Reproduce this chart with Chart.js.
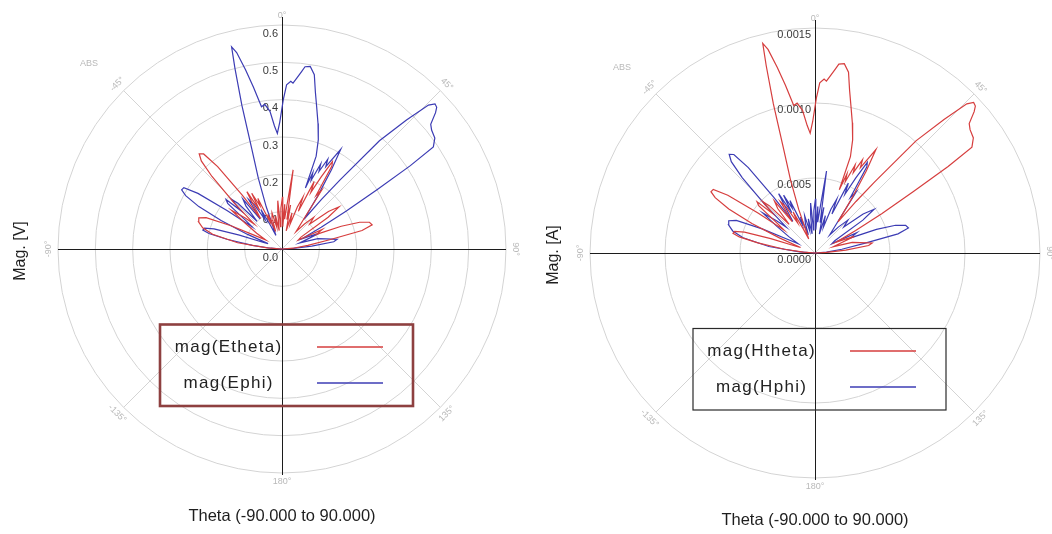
<!DOCTYPE html>
<html>
<head>
<meta charset="utf-8">
<script src="https://cdn.jsdelivr.net/npm/chart.js@4.4.1/dist/chart.umd.min.js"></script>
<style>
  html, body { margin: 0; padding: 0; background: #ffffff; }
  #wrap { position: relative; width: 1052px; height: 534px; overflow: hidden; background: #ffffff; }
  .pane { position: absolute; top: 0; width: 526px; height: 534px; }
</style>
</head>
<body>
<div id="wrap">
  <div class="pane" style="left:0"><canvas id="chartE" width="526" height="534"></canvas></div>
  <div class="pane" style="left:526px"><canvas id="chartH" width="526" height="534"></canvas></div>
</div>
<script>
// Angular grid (theta, degrees clockwise from the top) and its labels
const angleTicks = [0, 45, 90, 135, 180, -135, -90, -45];
const angleTickLabels = ['0°', '45°', '90°', '135°', '180°', '-135°', '-90°', '-45°'];

// Radial rings
const voltTicks = [0, 0.1, 0.2, 0.3, 0.4, 0.5, 0.6];
const ampTicks = [0, 0.0005, 0.001, 0.0015];

// Far-field E components, theta in degrees, magnitude in V
const ethetaDeg = [-90,-86,-82,-78,-75,-72,-69.5,-67.5,-65.5,-63.5,-61,-58,-55,-52.5,-50,-48,-46,-44,-42.5,-41,-39.5,-38,-36.5,-35,-33,-31.5,-30,-28.5,-27,-25.5,-24,-22,-20,-18,-15.5,-13.5,-11,-8.5,-6.5,-5,-3.5,-1.5,0.5,2,3.5,5,6.5,8,9.5,11,13,15.5,18,20,22,23.5,25.5,27,28.5,30,31,32.5,34,36,39,42,45,48,51,53.5,55.5,58,61,64,67,69,71,73,75,77,79,82,86,90];
const ethetaMag = [0,0.04,0.12,0.19,0.22,0.235,0.238,0.22,0.15,0.08,0.05,0.08,0.12,0.17,0.13,0.1,0.18,0.27,0.32,0.338,0.33,0.28,0.18,0.1,0.14,0.18,0.12,0.17,0.13,0.15,0.08,0.1,0.05,0.08,0.1,0.06,0.09,0.05,0.1,0.13,0.06,0.11,0.14,0.06,0.12,0.08,0.12,0.214,0.08,0.12,0.05,0.1,0.07,0.12,0.15,0.11,0.2,0.17,0.22,0.27,0.26,0.17,0.19,0.1,0.06,0.09,0.12,0.1,0.16,0.19,0.15,0.06,0.05,0.12,0.1,0.17,0.22,0.245,0.25,0.22,0.13,0.07,0.03,0];

const ephiDeg = [-90,-86,-83,-80,-78,-76.5,-75,-73.5,-72,-70.5,-69,-67,-65,-63,-61,-59.5,-58,-56.5,-55,-53.5,-52,-50,-48.5,-47,-45.5,-44,-42,-40,-38,-36,-34,-32,-30,-28,-26,-24,-22,-20.5,-18.5,-16.8,-15.6,-14.6,-14,-13,-11.5,-10,-8.2,-6.8,-5,-3.5,-2.3,-1,0.5,1.6,3,3.8,5,6.3,7.2,8.8,10.5,12,13.7,16,18.4,20.2,21,22,23,24.5,25.5,27,28,30.5,32,34,36.5,38.5,40,42,44,45.5,46.5,47.5,48.4,50,51.5,54,56,57,58,59.5,61,63,65,67,69,71,74,77,80,82,84.5,87,90];
const ephiMag = [0,0.03,0.08,0.15,0.2,0.218,0.215,0.19,0.12,0.05,0.04,0.1,0.18,0.25,0.295,0.312,0.31,0.27,0.18,0.1,0.12,0.19,0.2,0.15,0.19,0.17,0.1,0.15,0.17,0.1,0.16,0.14,0.09,0.12,0.07,0.04,0.06,0.12,0.2,0.28,0.4,0.5,0.558,0.54,0.49,0.44,0.385,0.39,0.37,0.33,0.31,0.34,0.4,0.44,0.45,0.445,0.46,0.478,0.492,0.495,0.475,0.43,0.392,0.35,0.308,0.265,0.175,0.22,0.2,0.25,0.23,0.27,0.25,0.31,0.25,0.17,0.1,0.17,0.24,0.39,0.48,0.55,0.565,0.562,0.55,0.52,0.512,0.506,0.489,0.41,0.3,0.2,0.12,0.06,0.08,0.11,0.07,0.05,0.1,0.12,0.15,0.14,0.08,0.03,0];

// Far-field H components, theta in degrees, magnitude in A
const hthetaDeg = [-90,-86,-83,-80,-78,-76.5,-75,-73.5,-72,-70.5,-69,-67,-65,-63,-61,-59.5,-58,-56.5,-55,-53.5,-52,-50,-48.5,-47,-45.5,-44,-42,-40,-38,-36,-34,-32,-30,-28,-26,-24,-22,-20.5,-18.5,-16.8,-15.6,-14.6,-14,-13,-11.5,-10,-8.2,-6.8,-5,-3.5,-2.3,-1,0.5,1.6,3,3.8,5,6.3,7.2,8.8,10.5,12,13.7,16,18.4,20.2,21,22,23,24.5,25.5,27,28,30.5,32,34,36.5,38.5,40,42,44,45.5,46.5,47.5,48.4,50,51.5,54,56,57,58,59.5,61,63,65,67,69,71,74,77,80,82,84.5,87,90];
const hthetaMag = [0,0.000077,0.000206,0.000387,0.000516,0.000562,0.000555,0.000490,0.000310,0.000129,0.000103,0.000258,0.000464,0.000645,0.000761,0.000805,0.000800,0.000697,0.000464,0.000258,0.000310,0.000490,0.000516,0.000387,0.000490,0.000439,0.000258,0.000387,0.000439,0.000258,0.000413,0.000361,0.000232,0.000310,0.000181,0.000103,0.000155,0.000310,0.000516,0.000722,0.001032,0.001290,0.001440,0.001393,0.001264,0.001135,0.000993,0.001006,0.000955,0.000851,0.000800,0.000877,0.001032,0.001135,0.001161,0.001148,0.001187,0.001233,0.001269,0.001277,0.001226,0.001109,0.001011,0.000903,0.000795,0.000684,0.000452,0.000568,0.000516,0.000645,0.000593,0.000697,0.000645,0.000800,0.000645,0.000439,0.000258,0.000439,0.000619,0.001006,0.001238,0.001419,0.001458,0.001450,0.001419,0.001342,0.001321,0.001305,0.001262,0.001058,0.000774,0.000516,0.000310,0.000155,0.000206,0.000284,0.000181,0.000129,0.000258,0.000310,0.000387,0.000361,0.000206,0.000077,0];

const hphiDeg = [-90,-86,-82,-78,-75,-72,-69.5,-67.5,-65.5,-63.5,-61,-58,-55,-52.5,-50,-48,-46,-44,-42.5,-41,-39.5,-38,-36.5,-35,-33,-31.5,-30,-28.5,-27,-25.5,-24,-22,-20,-18,-15.5,-13.5,-11,-8.5,-6.5,-5,-3.5,-1.5,0.5,2,3.5,5,6.5,8,9.5,11,13,15.5,18,20,22,23.5,25.5,27,28.5,30,31,32.5,34,36,39,42,45,48,51,53.5,55.5,58,61,64,67,69,71,73,75,77,79,82,86,90];
const hphiMag = [0,0.000103,0.000310,0.000490,0.000568,0.000606,0.000614,0.000568,0.000387,0.000206,0.000129,0.000206,0.000310,0.000439,0.000335,0.000258,0.000464,0.000697,0.000826,0.000872,0.000851,0.000722,0.000464,0.000258,0.000361,0.000464,0.000310,0.000439,0.000335,0.000387,0.000206,0.000258,0.000129,0.000206,0.000258,0.000155,0.000232,0.000129,0.000258,0.000335,0.000155,0.000284,0.000361,0.000155,0.000310,0.000206,0.000310,0.000552,0.000206,0.000310,0.000129,0.000258,0.000181,0.000310,0.000387,0.000284,0.000516,0.000439,0.000568,0.000697,0.000671,0.000439,0.000490,0.000258,0.000155,0.000232,0.000310,0.000258,0.000413,0.000490,0.000387,0.000155,0.000129,0.000310,0.000258,0.000439,0.000568,0.000632,0.000645,0.000568,0.000335,0.000181,0.000077,0];

const RED = 'rgb(214, 62, 62)';
const BLUE = 'rgb(60, 60, 180)';

// theta/magnitude pairs -> cartesian points for the linear x/y scales
function toXY(deg, mag) {
  return deg.map((d, i) => {
    const t = d * Math.PI / 180;
    return { x: mag[i] * Math.sin(t), y: mag[i] * Math.cos(t) };
  });
}

function spacedText(ctx, str, centerX, y, spacing) {
  const chars = Array.from(str);
  const widths = chars.map(ch => ctx.measureText(ch).width);
  const total = widths.reduce((a, b) => a + b, 0) + spacing * (chars.length - 1);
  let xx = centerX - total / 2;
  ctx.textAlign = 'left';
  chars.forEach((ch, i) => { ctx.fillText(ch, xx, y); xx += widths[i] + spacing; });
}

function polarFrame(cfg) {
  return {
    id: 'polarFrame',
    beforeDatasetsDraw(chart) {
      const { ctx, scales: { x, y } } = chart;
      const cx = x.getPixelForValue(0), cy = y.getPixelForValue(0);
      const rad = v => x.getPixelForValue(v) - cx;
      const R = rad(cfg.ticks[cfg.ticks.length - 1]);
      ctx.save();
      // rings
      ctx.lineWidth = 1;
      ctx.strokeStyle = '#d4d4d4';
      cfg.ticks.forEach(v => {
        if (v <= 0) return;
        ctx.beginPath();
        ctx.arc(cx, cy, rad(v), 0, Math.PI * 2);
        ctx.stroke();
      });
      // diagonal spokes
      angleTicks.forEach(a => {
        if (a % 90 === 0) return;
        const t = a * Math.PI / 180;
        ctx.beginPath();
        ctx.moveTo(cx, cy);
        ctx.lineTo(cx + R * Math.sin(t), cy - R * Math.cos(t));
        ctx.stroke();
      });
      // main axes
      ctx.strokeStyle = '#1c1c1c';
      ctx.beginPath();
      ctx.moveTo(Math.round(cx) + 0.5, cy - R - 8);
      ctx.lineTo(Math.round(cx) + 0.5, cy + R + 2);
      ctx.moveTo(cx - R, Math.round(cy) + 0.5);
      ctx.lineTo(cx + R, Math.round(cy) + 0.5);
      ctx.stroke();
      // angle labels
      ctx.fillStyle = '#b9b9b9';
      ctx.font = '9px "Liberation Sans", Arial, sans-serif';
      ctx.textAlign = 'center';
      ctx.textBaseline = 'middle';
      angleTicks.forEach((a, i) => {
        const t = a * Math.PI / 180;
        const r = R + 9;
        let rot = a;
        if (a > 90) rot = a - 180;
        if (a < -90) rot = a + 180;
        ctx.save();
        ctx.translate(cx + r * Math.sin(t), cy - r * Math.cos(t));
        ctx.rotate(rot * Math.PI / 180);
        ctx.fillText(angleTickLabels[i], 0, 0);
        ctx.restore();
      });
      ctx.fillText('ABS', cx - 193, cy - 185);
      // ring values along the vertical axis
      ctx.fillStyle = '#3a3a3a';
      ctx.font = '11px "Liberation Sans", Arial, sans-serif';
      ctx.textAlign = 'right';
      ctx.textBaseline = 'top';
      cfg.ticks.forEach(v => {
        ctx.fillText(v.toFixed(cfg.decimals), cx - 4, cy - rad(v) + cfg.labelDrop);
      });
      // axis titles
      ctx.fillStyle = '#1e1e1e';
      ctx.font = '16.5px "Liberation Sans", Arial, sans-serif';
      ctx.textAlign = 'center';
      ctx.textBaseline = 'middle';
      ctx.fillText(cfg.xTitle, cx, cy + 267);
      ctx.font = '16px "Liberation Sans", Arial, sans-serif';
      ctx.save();
      ctx.translate(cx - 261, cy + 2);
      ctx.rotate(-Math.PI / 2);
      ctx.fillText(cfg.yTitle, 0, 0);
      ctx.restore();
      ctx.restore();
    },
    afterDatasetsDraw(chart) {
      const { ctx, scales: { x, y } } = chart;
      const cx = x.getPixelForValue(0), cy = y.getPixelForValue(0);
      ctx.save();
      // legend box
      ctx.strokeStyle = cfg.legendBorder;
      ctx.lineWidth = cfg.legendBorderWidth;
      ctx.strokeRect(cx - 122, cy + 75.5, 253, 81.5);
      ctx.font = '17px "Liberation Sans", Arial, sans-serif';
      ctx.fillStyle = '#222222';
      ctx.textBaseline = 'middle';
      const rows = [cy + 98, cy + 134];
      chart.data.datasets.forEach((ds, i) => {
        spacedText(ctx, ds.label, cx - 54, rows[i], 1.3);
        ctx.strokeStyle = ds.borderColor;
        ctx.lineWidth = 1.3;
        ctx.beginPath();
        ctx.moveTo(cx + 35, rows[i]);
        ctx.lineTo(cx + 101, rows[i]);
        ctx.stroke();
      });
      ctx.restore();
    }
  };
}

function makeChart(id, datasets, cfg, padding) {
  return new Chart(document.getElementById(id), {
    type: 'scatter',
    data: { datasets },
    options: {
      responsive: false,
      animation: false,
      devicePixelRatio: 1,
      layout: { padding },
      scales: {
        x: { type: 'linear', min: -cfg.max, max: cfg.max, display: false },
        y: { type: 'linear', min: -cfg.max, max: cfg.max, display: false }
      },
      elements: { point: { radius: 0, hoverRadius: 0 }, line: { tension: 0 } },
      plugins: { legend: { display: false }, tooltip: { enabled: false } }
    },
    plugins: [polarFrame(cfg)]
  });
}

makeChart('chartE', [
  { label: 'mag(Etheta)', data: toXY(ethetaDeg, ethetaMag), showLine: true, borderColor: RED, borderWidth: 1.2, fill: false },
  { label: 'mag(Ephi)', data: toXY(ephiDeg, ephiMag), showLine: true, borderColor: BLUE, borderWidth: 1.2, fill: false }
], {
  max: 0.6, ticks: voltTicks, decimals: 1, labelDrop: 3,
  xTitle: 'Theta (-90.000 to 90.000)', yTitle: 'Mag. [V]',
  legendBorder: '#8e4040', legendBorderWidth: 2.6
}, { left: 58, top: 25, right: 20, bottom: 61 });

makeChart('chartH', [
  { label: 'mag(Htheta)', data: toXY(hthetaDeg, hthetaMag), showLine: true, borderColor: RED, borderWidth: 1.2, fill: false },
  { label: 'mag(Hphi)', data: toXY(hphiDeg, hphiMag), showLine: true, borderColor: BLUE, borderWidth: 1.2, fill: false }
], {
  max: 0.0015, ticks: ampTicks, decimals: 4, labelDrop: 1,
  xTitle: 'Theta (-90.000 to 90.000)', yTitle: 'Mag. [A]',
  legendBorder: '#2a2a2a', legendBorderWidth: 1.2
}, { left: 64, top: 28, right: 12, bottom: 56 });
</script>
</body>
</html>
